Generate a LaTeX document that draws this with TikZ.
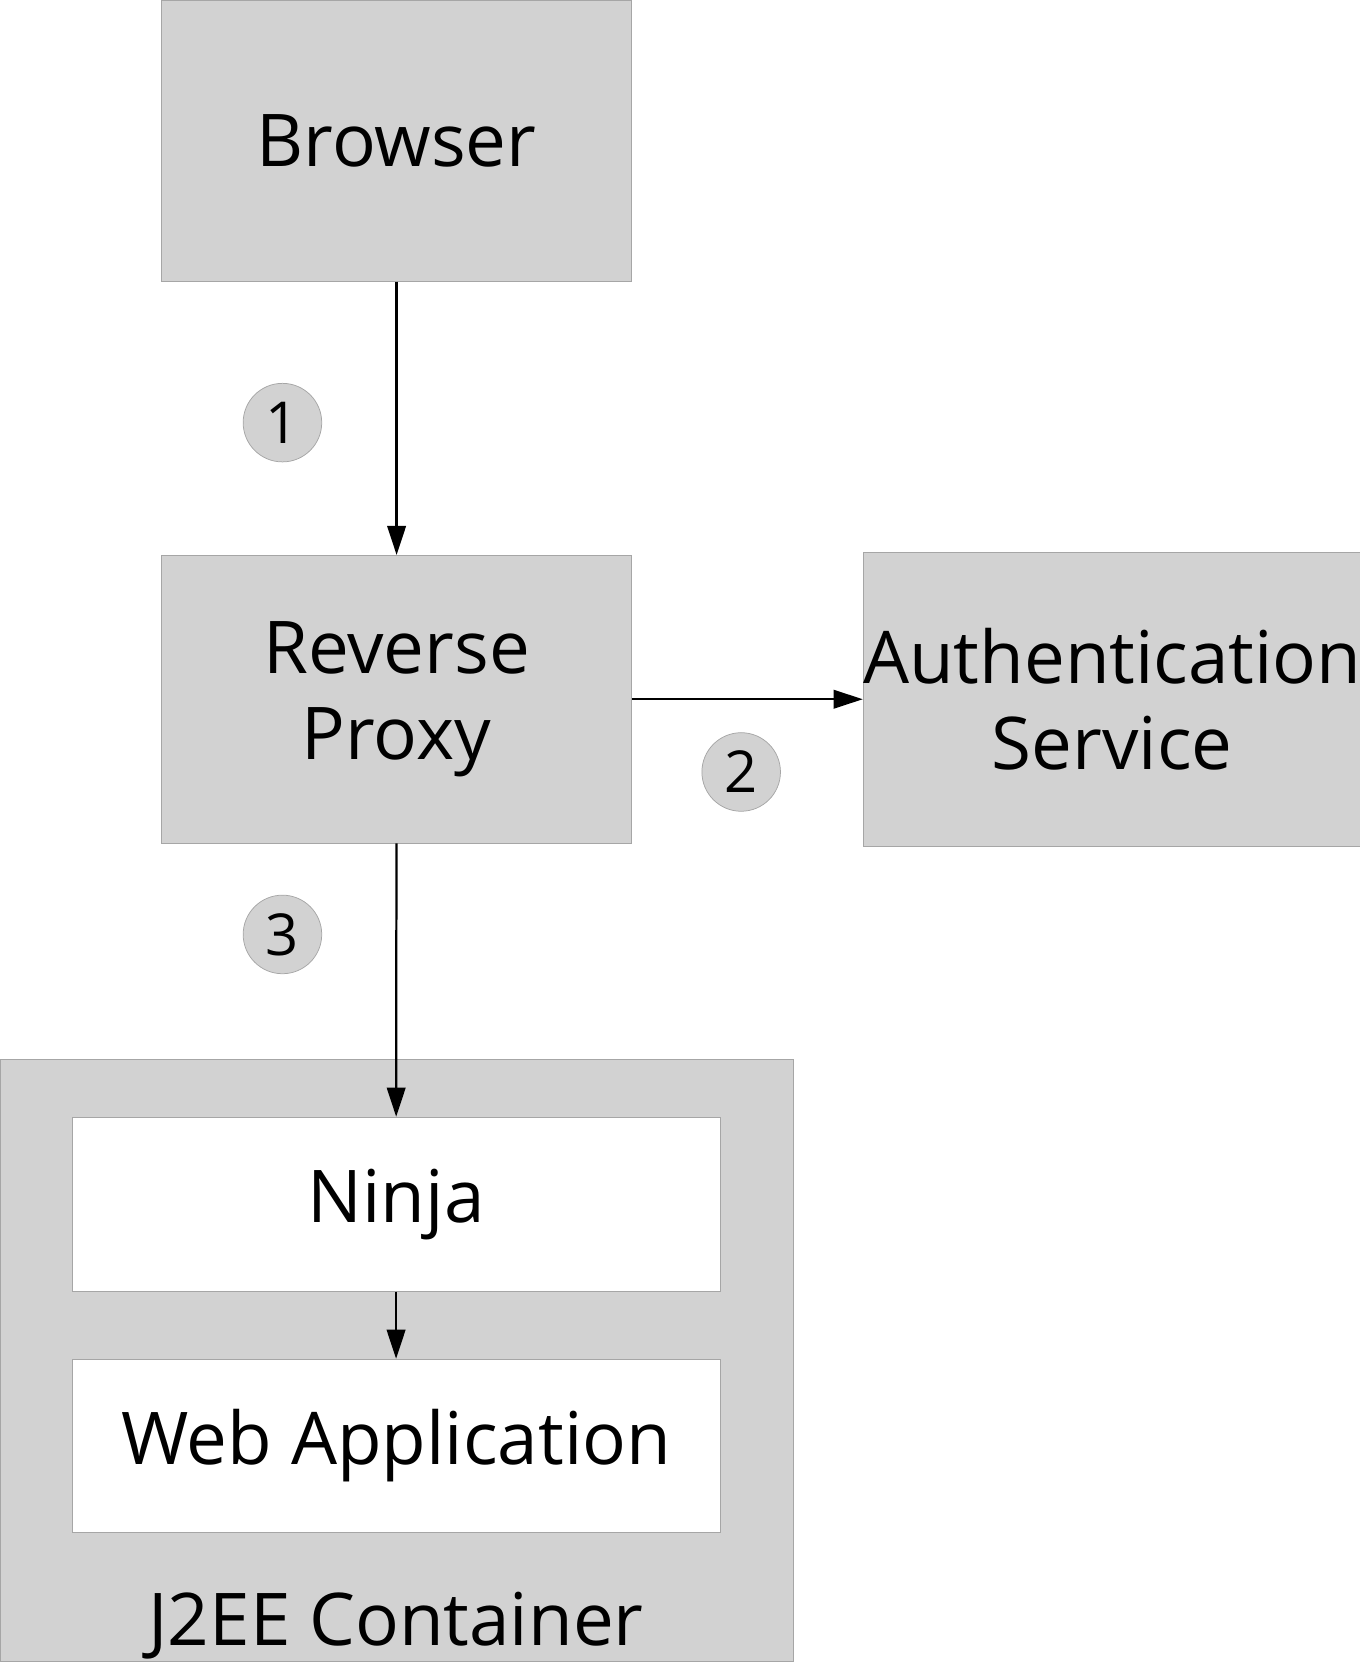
\documentclass[tikz,border=0pt]{standalone}
\usepackage{fontspec}
\setmainfont{Open Sans}
\usetikzlibrary{arrows.meta, positioning}
\tikzset{
	box/.style={rectangle, draw=gray!70, fill=gray!35, align=center, font=\fontsize{39}{46}\selectfont, inner sep=0pt},
	inbox/.style={box, fill=white},
	step_num/.style={circle, draw=gray!70, fill=gray!35, minimum size=1.48cm, inner sep=0pt, font=\fontsize{31}{36}\selectfont},
	arrow/.style={-{Triangle[length=5.5mm, width=3.5mm]}, line width=1.2pt}
}
\begin{document}
\begin{tikzpicture}[x=0.02cm, y=-0.02cm]
	\useasboundingbox (0,0) rectangle (1280,1568);
	
	% --- Outer container ---
	\node[box, minimum width=14.94cm, minimum height=11.34cm] (container) at (373.5,1281.5) {};
	\node[font=\fontsize{39}{46}\selectfont, anchor=base] (container_label) at (373,1550) {J2EE Container};
	
	% --- Main blocks ---
	\node[box, minimum width=8.86cm, minimum height=5.3cm] (browser) at (373.5,132.5) {Browser};
	\node[box, minimum width=8.86cm, minimum height=5.42cm] (proxy) at (373.5,658.5) {Reverse\\Proxy};
	\node[box, minimum width=9.1cm, minimum height=5.54cm] (auth) at (1047.5,658.5) {Authentication\\Service};
	\node[inbox, minimum width=12.2cm, minimum height=3.28cm] (ninja) at (373,1134) {Ninja};
	\node[inbox, minimum width=12.2cm, minimum height=3.26cm] (webapp) at (373,1361.5) {Web Application};
	
	% --- Step numbers ---
	\node[step_num] (step1) at (266,398) {1};
	\node[step_num] (step2) at (698,727) {2};
	\node[step_num] (step3) at (266,880) {3};
	
	% Arrows
	\draw[arrow] (browser) -- (proxy);
	\draw[arrow] (proxy) -- (auth);
	\draw[arrow] (proxy) -- (ninja);
	\draw[arrow] (ninja) -- (webapp);
\end{tikzpicture}
\end{document}
